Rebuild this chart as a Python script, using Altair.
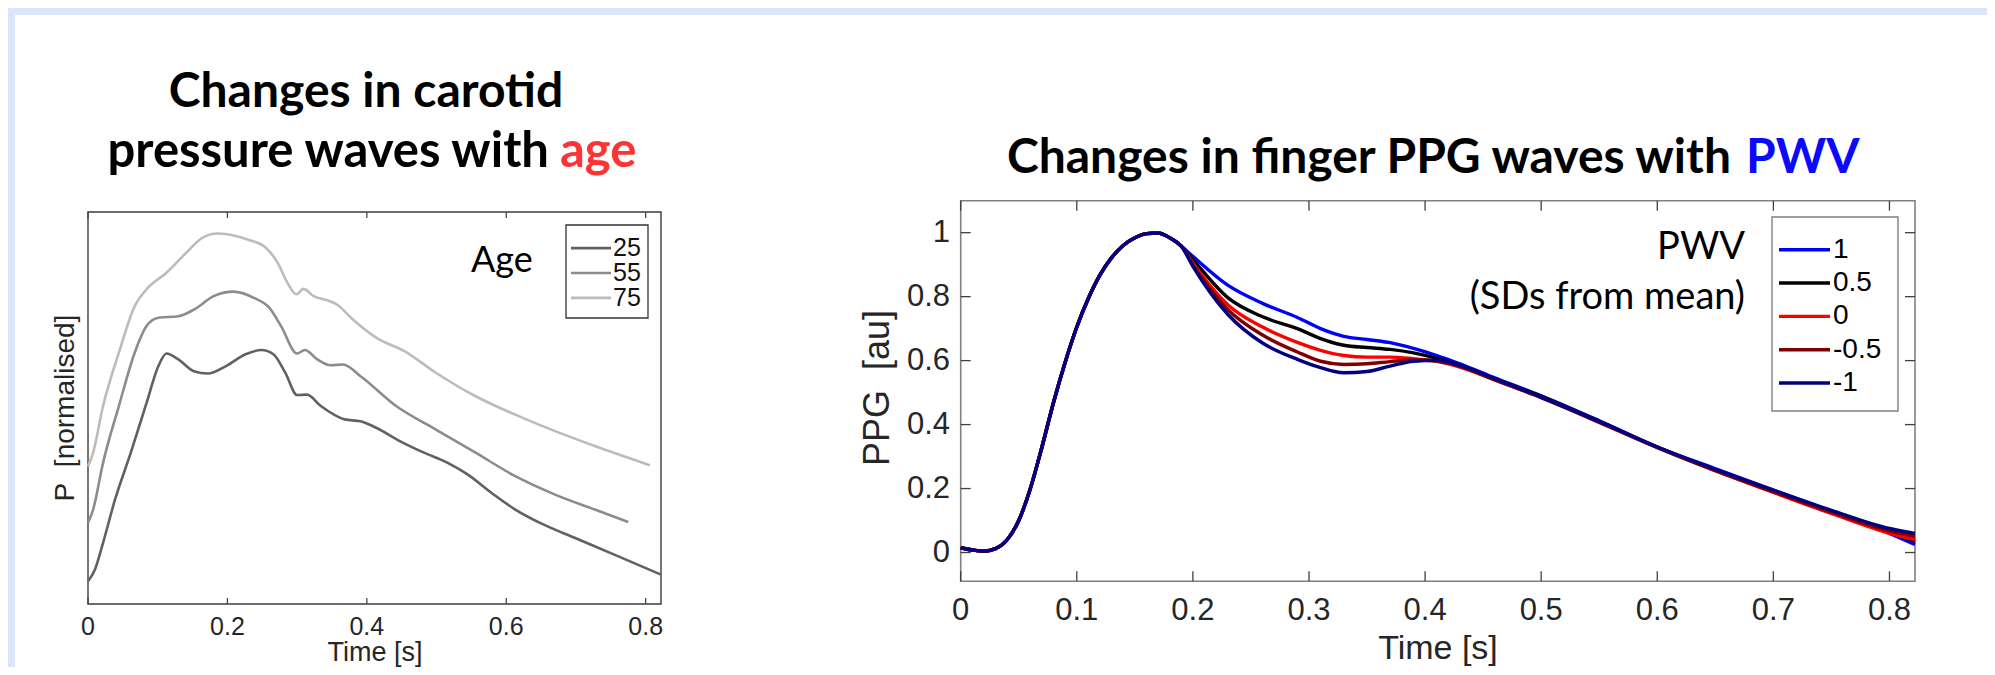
import altair as alt
import pandas as pd

# ---------------- data ----------------
# Left panel: carotid pressure waves (normalised, arbitrary offsets)
AGES = ["25", "55", "75"]
AGE_COLORS = ["#616161", "#8c8c8c", "#bcbcbc"]

age25_t = [0, 0.010, 0.0216, 0.0387, 0.0614, 0.084, 0.101, 0.1126, 0.1296, 0.152, 0.172, 0.198,
           0.226, 0.249, 0.266, 0.283, 0.300, 0.314, 0.334, 0.368, 0.391, 0.414, 0.448, 0.482,
           0.516, 0.545, 0.579, 0.613, 0.653, 0.698, 0.755, 0.822]
age25_v = [0.058, 0.088, 0.156, 0.266, 0.386, 0.513, 0.607, 0.639, 0.624, 0.594, 0.588, 0.607,
           0.637, 0.648, 0.637, 0.590, 0.533, 0.534, 0.505, 0.471, 0.466, 0.449, 0.415, 0.386,
           0.360, 0.330, 0.283, 0.241, 0.203, 0.169, 0.126, 0.075]

age55_t = [0, 0.0074, 0.0216, 0.0443, 0.067, 0.084, 0.101, 0.1296, 0.152, 0.181, 0.209, 0.238,
           0.260, 0.277, 0.300, 0.311, 0.329, 0.348, 0.366, 0.391, 0.442, 0.499, 0.556, 0.613,
           0.670, 0.727, 0.775]
age55_v = [0.207, 0.241, 0.360, 0.505, 0.641, 0.709, 0.730, 0.734, 0.751, 0.786, 0.797, 0.781,
           0.756, 0.709, 0.639, 0.648, 0.624, 0.609, 0.611, 0.581, 0.505, 0.445, 0.386, 0.326,
           0.279, 0.241, 0.209]

age75_t = [0, 0.0074, 0.0216, 0.0443, 0.067, 0.084, 0.1126, 0.141, 0.164, 0.186, 0.209, 0.232,
           0.255, 0.272, 0.286, 0.299, 0.309, 0.323, 0.346, 0.357, 0.380, 0.414, 0.454, 0.499,
           0.556, 0.613, 0.670, 0.727, 0.806]
age75_v = [0.351, 0.386, 0.505, 0.641, 0.760, 0.803, 0.845, 0.896, 0.934, 0.945, 0.940, 0.928,
           0.909, 0.871, 0.820, 0.790, 0.804, 0.786, 0.773, 0.764, 0.726, 0.679, 0.645, 0.590,
           0.530, 0.483, 0.441, 0.403, 0.354]

LEFT_XTICKS = [0, 0.2, 0.4, 0.6, 0.8]
LEFT_XLABELS = ["0", "0.2", "0.4", "0.6", "0.8"]

# Right panel: finger PPG waves for PWV (SDs from mean)
PWV = ["1", "0.5", "0", "-0.5", "-1"]
PWV_COLORS = ["#0000ff", "#000000", "#ff0000", "#800000", "#000080"]
T = [0, 0.01, 0.02, 0.03, 0.04, 0.05, 0.06, 0.07, 0.08, 0.09, 0.10, 0.11, 0.12, 0.13, 0.14,
     0.15, 0.16, 0.17, 0.18, 0.19, 0.20, 0.23, 0.26, 0.29, 0.31, 0.33, 0.35, 0.37, 0.39, 0.41,
     0.43, 0.46, 0.50, 0.55, 0.60, 0.65, 0.70, 0.75, 0.80, 0.822]
rise = [0.015, 0.008, 0.004, 0.012, 0.040, 0.100, 0.200, 0.330, 0.470, 0.595, 0.705, 0.795,
        0.868, 0.922, 0.960, 0.984, 0.997, 0.999, 0.984, 0.958]
ppg_p10 = rise + [0.926, 0.836, 0.779, 0.735, 0.700, 0.676, 0.666, 0.656, 0.638, 0.616, 0.590,
                  0.546, 0.490, 0.412, 0.330, 0.262, 0.195, 0.130, 0.060, 0.025]
ppg_p05 = rise + [0.916, 0.797, 0.737, 0.700, 0.669, 0.648, 0.641, 0.635, 0.624, 0.607, 0.585,
                  0.543, 0.488, 0.410, 0.330, 0.258, 0.190, 0.125, 0.062, 0.035]
ppg_0 = rise + [0.905, 0.775, 0.705, 0.657, 0.632, 0.616, 0.611, 0.611, 0.606, 0.598, 0.580,
                0.540, 0.485, 0.408, 0.329, 0.256, 0.188, 0.122, 0.060, 0.040]
ppg_m05 = rise + [0.900, 0.760, 0.680, 0.627, 0.598, 0.588, 0.590, 0.597, 0.602, 0.599, 0.582,
                  0.540, 0.484, 0.407, 0.328, 0.256, 0.190, 0.126, 0.068, 0.050]
ppg_m10 = rise + [0.895, 0.745, 0.655, 0.604, 0.578, 0.562, 0.566, 0.583, 0.598, 0.601, 0.585,
                  0.543, 0.486, 0.410, 0.330, 0.260, 0.195, 0.132, 0.075, 0.060]
PPG = [ppg_p10, ppg_p05, ppg_0, ppg_m05, ppg_m10]

RIGHT_XTICKS = [0, 0.1, 0.2, 0.3, 0.4, 0.5, 0.6, 0.7, 0.8]
RIGHT_XLABELS = ["0", "0.1", "0.2", "0.3", "0.4", "0.5", "0.6", "0.7", "0.8"]
RIGHT_YTICKS = [0, 0.2, 0.4, 0.6, 0.8, 1]
RIGHT_YLABELS = ["0", "0.2", "0.4", "0.6", "0.8", "1"]

# ---------------- layout (pixels inside the chart) ----------------
W, H = 1979, 659
BLUE_BG = "#dbe4f8"
TITLE_FONT = "Lato"
AX_FONT = "Liberation Sans"
TXT = "#262626"

# left plot frame
L_X0, L_X1, L_Y0, L_Y1 = 80, 653, 204, 596
# right plot frame
R_X0, R_X1, R_Y0, R_Y1 = 952.7, 1907, 192.7, 573.3

xs_left = alt.Scale(domain=[0, 0.822], range=[L_X0, L_X1], nice=False, zero=False)
ys_left = alt.Scale(domain=[0, 1], range=[L_Y1, L_Y0], nice=False, zero=False)
xs_right = alt.Scale(domain=[0, 0.822], range=[R_X0, R_X1], nice=False, zero=False)
ys_right = alt.Scale(domain=[-0.09, 1.1], range=[R_Y1, R_Y0], nice=False, zero=False)

dummy = pd.DataFrame({"_": [0]})


def text(s, x, y, size, font=TITLE_FONT, color="#000000", weight="normal", align="center",
         baseline="alphabetic", angle=0):
    return alt.Chart(dummy).mark_text(
        text=s, font=font, fontSize=size, fontWeight=weight, color=color,
        align=align, baseline=baseline, angle=angle
    ).encode(x=alt.value(x), y=alt.value(y))


def frame(x0, x1, y0, y1, color, width):
    return alt.Chart(dummy).mark_rect(fillOpacity=0, stroke=color, strokeWidth=width).encode(
        x=alt.value(x0), x2=alt.value(x1), y=alt.value(y0), y2=alt.value(y1))


# background panel
bg = alt.Chart(dummy).mark_rect(fill="#ffffff").encode(
    x=alt.value(7), x2=alt.value(W + 10), y=alt.value(7), y2=alt.value(H + 10))

# ---------------- left panel ----------------
left_layers = [frame(L_X0, L_X1, L_Y0, L_Y1, "#3c3c3c", 1.4)]
lt = pd.DataFrame({"t": LEFT_XTICKS, "lab": LEFT_XLABELS})
left_layers.append(alt.Chart(lt).mark_rule(color="#3c3c3c", strokeWidth=1.2).encode(
    x=alt.X("t:Q", scale=xs_left, axis=None), y=alt.value(L_Y1), y2=alt.value(L_Y1 - 6)))
left_layers.append(alt.Chart(lt).mark_rule(color="#3c3c3c", strokeWidth=1.2).encode(
    x=alt.X("t:Q", scale=xs_left, axis=None), y=alt.value(L_Y0), y2=alt.value(L_Y0 + 6)))
left_layers.append(alt.Chart(lt).mark_text(font=AX_FONT, fontSize=25, color=TXT,
                                           baseline="middle").encode(
    x=alt.X("t:Q", scale=xs_left, axis=None), y=alt.value(619), text="lab:N"))
for tt, vv, col in zip([age25_t, age55_t, age75_t], [age25_v, age55_v, age75_v], AGE_COLORS):
    d = pd.DataFrame({"t": tt, "v": vv})
    left_layers.append(alt.Chart(d).mark_line(color=col, strokeWidth=2.6,
                                              interpolate="monotone").encode(
        x=alt.X("t:Q", scale=xs_left, axis=None),
        y=alt.Y("v:Q", scale=ys_left, axis=None)))
left = alt.layer(*left_layers)

# left legend (rows 29 px apart, first row at y=236)
ll = pd.DataFrame({"age": AGES})
lcol = alt.Scale(domain=AGES, range=AGE_COLORS)
lrow = alt.Scale(domain=AGES, range=[221.5, 308.5], padding=0.5)
left_leg = alt.layer(
    frame(558, 640, 217, 310, "#333333", 1.3),
    alt.Chart(ll).mark_rule(strokeWidth=2.6).encode(
        x=alt.value(563), x2=alt.value(603),
        y=alt.Y("age:N", scale=lrow, axis=None, sort=AGES),
        color=alt.Color("age:N", scale=lcol, legend=None)),
    alt.Chart(ll).mark_text(font=AX_FONT, fontSize=25, color="#111111", align="left",
                            baseline="middle").encode(
        x=alt.value(605), y=alt.Y("age:N", scale=lrow, axis=None, sort=AGES), text="age:N"),
)

# ---------------- right panel ----------------
right_layers = [frame(R_X0, R_X1, R_Y0, R_Y1, "#808080", 1.6)]
rxt = pd.DataFrame({"t": RIGHT_XTICKS, "lab": RIGHT_XLABELS})
ryt = pd.DataFrame({"v": RIGHT_YTICKS, "lab": RIGHT_YLABELS})
for y0, y1 in [(R_Y1, R_Y1 - 10), (R_Y0, R_Y0 + 10)]:
    right_layers.append(alt.Chart(rxt).mark_rule(color="#404040", strokeWidth=1.3).encode(
        x=alt.X("t:Q", scale=xs_right, axis=None), y=alt.value(y0), y2=alt.value(y1)))
for x0, x1 in [(R_X0, R_X0 + 10), (R_X1, R_X1 - 10)]:
    right_layers.append(alt.Chart(ryt).mark_rule(color="#404040", strokeWidth=1.3).encode(
        y=alt.Y("v:Q", scale=ys_right, axis=None), x=alt.value(x0), x2=alt.value(x1)))
right_layers.append(alt.Chart(rxt).mark_text(font=AX_FONT, fontSize=31, color=TXT,
                                             baseline="middle").encode(
    x=alt.X("t:Q", scale=xs_right, axis=None), y=alt.value(603), text="lab:N"))
right_layers.append(alt.Chart(ryt).mark_text(font=AX_FONT, fontSize=31, color=TXT,
                                             align="right", baseline="middle").encode(
    y=alt.Y("v:Q", scale=ys_right, axis=None), x=alt.value(942), text="lab:N"))
for vals, col in zip(PPG, PWV_COLORS):
    d = pd.DataFrame({"t": T, "v": vals})
    right_layers.append(alt.Chart(d).mark_line(color=col, strokeWidth=3.4,
                                               interpolate="monotone").encode(
        x=alt.X("t:Q", scale=xs_right, axis=None),
        y=alt.Y("v:Q", scale=ys_right, axis=None)))
right = alt.layer(*right_layers)

# right legend (rows ~36.7 px apart, first row at y=235)
rl = pd.DataFrame({"pwv": PWV})
rcol = alt.Scale(domain=PWV, range=PWV_COLORS)
rrow = alt.Scale(domain=PWV, range=[216.7, 400.0], padding=0.5)
right_leg = alt.layer(
    frame(1764, 1890, 209, 403, "#808080", 1.4),
    alt.Chart(rl).mark_rule(strokeWidth=3.4).encode(
        x=alt.value(1771), x2=alt.value(1822),
        y=alt.Y("pwv:N", scale=rrow, axis=None, sort=PWV),
        color=alt.Color("pwv:N", scale=rcol, legend=None)),
    alt.Chart(rl).mark_text(font=AX_FONT, fontSize=28, color="#000000", align="left",
                            baseline="middle").encode(
        x=alt.value(1825), y=alt.Y("pwv:N", scale=rrow, axis=None, sort=PWV), text="pwv:N"),
)

# ---------------- text annotations ----------------
annots = [
    text("Changes in carotid", 358, 99, 48, weight="bold"),
    text("pressure waves with", 541, 159, 49, weight="bold", align="right"),
    text("age", 552, 159, 49, weight="bold", color="#ff3333", align="left"),
    text("Changes in finger PPG waves with", 1723, 165, 48, weight="bold", align="right"),
    text("PWV", 1738, 165, 48, weight="bold", color="#0a0aff", align="left"),
    text("Age", 463, 264, 36, align="left"),
    text("PWV", 1737, 251, 38, align="right"),
    text("(SDs from mean)", 1737, 301, 38, align="right"),
    text("P\u00a0\u00a0[normalised]", 58, 400, 28, font=AX_FONT, color=TXT, angle=270,
         baseline="middle"),
    text("Time [s]", 367, 645, 27, font=AX_FONT, color=TXT, baseline="middle"),
    text("PPG\u00a0\u00a0[au]", 870, 380, 36, font=AX_FONT, color=TXT, angle=270,
         baseline="middle"),
    text("Time [s]", 1430, 641, 34, font=AX_FONT, color=TXT, baseline="middle"),
]

chart = alt.layer(bg, left, left_leg, right, right_leg, *annots).resolve_scale(
    x="independent", y="independent", color="independent"
).properties(
    width=W, height=H, autosize=alt.AutoSizeParams(type="none"), padding=0,
    background=BLUE_BG
).configure_view(stroke=None)

chart.save("out.html", embed_options={"renderer": "svg", "actions": False})
